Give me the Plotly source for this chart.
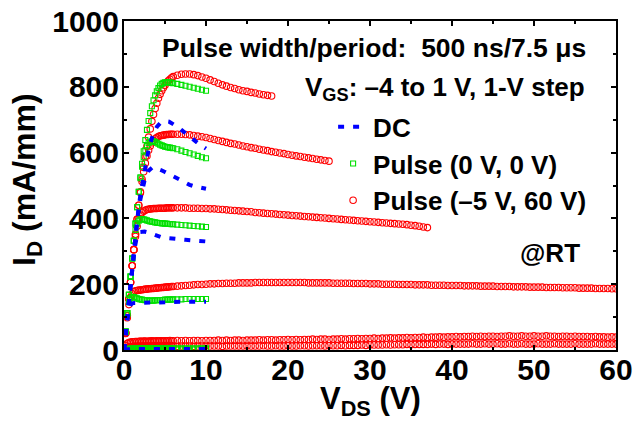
import plotly.graph_objects as go

# ---- sweep grids (V_DS, V) ----
G1 = [0.0, 0.2, 0.4, 0.6, 0.8, 1.0, 1.2, 1.4, 1.6, 1.8, 2.0, 2.2, 2.4, 2.6, 2.8,
      3.0, 3.2, 3.4, 3.6, 3.8, 4.0, 4.2, 4.4, 4.6, 4.8, 5.0, 5.2, 5.4, 5.6, 5.8]
G2 = [6.0, 6.5, 7.0, 7.5, 8.0, 8.5, 9.0, 9.5, 10.0, 10.5, 11.0, 11.5, 12.0, 12.5,
      13.0, 13.5, 14.0, 14.5, 15.0, 15.5, 16.0, 16.5, 17.0, 17.5, 18.0, 18.5, 19.0,
      19.5, 20.0, 20.5, 21.0, 21.5, 22.0, 22.5, 23.0, 23.5, 24.0, 24.5, 25.0, 25.5,
      26.0, 26.5, 27.0, 27.5, 28.0, 28.5, 29.0, 29.5, 30.0, 30.5, 31.0, 31.5, 32.0,
      32.5, 33.0, 33.5, 34.0, 34.5, 35.0, 35.5, 36.0, 36.5, 37.0, 37.5, 38.0, 38.5,
      39.0, 39.5, 40.0, 40.5, 41.0, 41.5, 42.0, 42.5, 43.0, 43.5, 44.0, 44.5, 45.0,
      45.5, 46.0, 46.5, 47.0, 47.5, 48.0, 48.5, 49.0, 49.5, 50.0, 50.5, 51.0, 51.5,
      52.0, 52.5, 53.0, 53.5, 54.0, 54.5, 55.0, 55.5, 56.0, 56.5, 57.0, 57.5, 58.0,
      58.5, 59.0, 59.5, 60.0]
VDS = G1 + G2
VDS_DC = [0, 0.25, 0.5, 0.75, 1.0, 1.25, 1.5, 1.75, 2.0, 2.5, 3.0, 3.5, 4.0, 4.5,
          5.0, 5.5, 6.0, 6.5, 7.0, 7.5, 8.0, 8.5, 9.0, 9.5, 10.0]

# ---- Pulse (-5 V, 60 V): I_D (mA/mm), V_GS = 1, 0, -1, -2, -3, -4 V ----
red_vgs_p1 = [0, 52, 104, 155, 206, 256, 305, 352, 397, 440, 481, 519, 555, 588, 619,
              647, 672, 695, 716, 734, 750, 765, 777, 788, 797, 805, 812, 818, 823, 827,
              831, 835, 838, 839, 839, 837, 834, 830, 826, 821, 816, 811, 806, 802, 798,
              795, 791, 788, 786, 783, 781, 778, 776, 774, 772]
red_vgs_0 = [0, 52, 104, 155, 206, 256, 305, 352, 397, 440, 478, 512, 542, 568, 590,
             607, 620, 630, 637, 642, 646, 649, 651, 652, 653, 654, 655, 655, 656, 656,
             656, 656, 656, 655, 654, 652, 650, 648, 646, 643, 640, 637, 634, 631, 628,
             626, 623, 620, 618, 615, 613, 610, 608, 606, 603, 601, 599, 597, 594, 592,
             590, 588, 586, 584, 582, 580, 578, 576, 574]
red_vgs_m1 = [0, 52, 104, 155, 206, 256, 305, 345, 376, 397, 410, 418, 422, 425, 427,
              428, 429, 429, 430, 430, 430, 431, 431, 431, 431, 431, 432, 432, 432, 432,
              432, 432, 432, 432, 431, 431, 431, 430, 430, 429, 429, 428, 427, 426, 425,
              424, 423, 422, 421, 420, 418, 417, 416, 415, 414, 413, 412, 411, 410, 409,
              408, 407, 406, 405, 404, 403, 402, 401, 400, 399, 398, 397, 396, 395, 394,
              393, 392, 391, 390, 389, 388, 387, 386, 385, 384, 383, 382, 381, 379, 378,
              376, 374, 372]
red_vgs_m2 = [0, 50, 98, 138, 160, 171, 177, 180, 181, 182, 182, 183, 184, 185, 185,
              186, 186, 187, 187, 188, 188, 189, 189, 190, 190, 191, 191, 192, 192, 193,
              193, 194, 195, 196, 197, 198, 199, 199, 200, 201,
              201, 202, 202, 203, 203, 203, 204, 204, 204, 204,
              205, 205, 205, 205, 205, 205, 205, 205, 205, 205,
              205, 205, 205, 204, 204, 204, 204, 204, 204, 203,
              203, 203, 203, 203, 202, 202, 202, 202, 201, 201,
              201, 200, 200, 200, 200, 199, 199, 199, 199, 198,
              198, 198, 198, 197, 197, 197, 197, 196, 196, 196,
              196, 195, 195, 195, 195, 194, 194, 194, 194, 193,
              193, 193, 193, 192, 192, 192, 192, 191, 191, 191,
              191, 190, 190, 190, 190, 189, 189, 189, 189, 188,
              188, 188, 188, 187, 187, 187, 187, 186, 186]
red_vgs_m3 = [0, 14, 20, 23, 24, 25, 25, 26, 26, 26, 27, 26, 27, 27, 26, 27, 27, 28,
              27, 27, 28, 27, 28, 28, 27, 28, 28, 28, 29, 28,
              28, 29, 28, 29, 28, 29, 29, 28, 29, 29,
              29, 30, 29, 30, 29, 30, 30, 29, 30, 30,
              30, 31, 30, 31, 31, 30, 31, 31, 32, 31,
              32, 31, 32, 32, 33, 32, 33, 33, 32, 33,
              33, 34, 33, 34, 34, 35, 34, 35, 35, 36,
              35, 36, 36, 37, 36, 37, 37, 38, 37, 38,
              38, 39, 38, 39, 39, 40, 39, 40, 40, 41,
              40, 41, 41, 42, 41, 42, 41, 42, 42, 41,
              42, 42, 43, 42, 42, 43, 42, 42, 43, 42,
              42, 43, 42, 42, 41, 42, 42, 41, 42, 41,
              41, 41, 40, 41, 40, 40, 39, 40, 39]
red_vgs_m4 = [0, 5, 8, 9, 10, 10, 11, 11, 11, 11, 12, 11, 12, 12, 11, 12, 12, 12, 11,
              12, 12, 12, 12, 11, 12, 12, 12, 12, 12, 12,
              12, 11, 12, 12, 12, 11, 12, 12, 12, 12,
              12, 12, 11, 12, 12, 12, 12, 12, 12, 12,
              12, 12, 13, 12, 12, 13, 12, 12, 13, 12,
              12, 13, 13, 12, 13, 13, 13, 12, 13, 13,
              13, 14, 13, 14, 14, 14, 15, 14, 15, 15,
              15, 15, 16, 15, 16, 16, 16, 17, 16, 17,
              17, 17, 17, 18, 17, 18, 18, 17, 18, 18,
              18, 18, 18, 19, 18, 18, 19, 18, 18, 19,
              18, 18, 19, 18, 18, 19, 18, 18, 18, 19,
              18, 18, 18, 19, 18, 18, 18, 18, 19, 18,
              18, 18, 18, 19, 18, 18, 18, 18, 18]

# ---- Pulse (0 V, 0 V) ----
grn_vgs_p1 = [0, 56, 112, 168, 223, 278, 332, 384, 434, 481, 525, 566, 604, 638, 669,
              696, 720, 741, 759, 774, 786, 796, 804, 809, 812, 814, 814, 814, 813, 812,
              811, 809, 806, 803, 800, 797, 794, 791, 788]
grn_vgs_0 = [0, 56, 112, 168, 223, 278, 332, 384, 434, 481, 522, 557, 586, 607, 621,
             629, 633, 634, 634, 632, 630, 627, 624, 622, 620, 618, 617, 616, 615, 614,
             613, 610, 606, 602, 598, 594, 590, 586, 583]
grn_vgs_m1 = [0, 56, 112, 168, 223, 278, 332, 365, 384, 393, 397, 398, 397, 396, 394,
              392, 391, 390, 389, 388, 387, 386, 386, 385, 385, 384, 384, 383, 383, 382,
              382, 381, 380, 379, 378, 377, 376, 375, 374]
grn_vgs_m2 = [0, 55, 108, 145, 158, 162, 161, 159, 157, 155, 154, 153, 152, 151, 151,
              150, 150, 150, 150, 151, 151, 151, 152, 152, 152, 153, 153, 153, 153, 154,
              154, 154, 154, 155, 155, 155, 155, 155, 155]
grn_vgs_m3 = [0, 3, 4, 4, 4, 5, 4, 5, 5, 5, 5, 5, 5, 5, 5, 5, 5, 5, 5, 5, 5, 5, 5, 5,
              5, 5, 5, 5, 5, 5, 5, 5, 5, 5, 5, 5, 5, 5, 5]
grn_vgs_m4 = [0, 1, 2, 2, 2, 2, 2, 2, 2, 2, 2, 2, 2, 2, 2, 2, 2, 2, 2, 2, 2, 2, 2, 2,
              2, 2, 2, 2, 2, 2, 2, 2, 2, 2, 2, 2, 2, 2, 2]

# ---- DC ----
dc_vgs_p1 = [0, 65, 130, 193, 255, 315, 372, 425, 472, 550, 610, 652, 678, 692, 696,
             694, 687, 679, 669, 658, 648, 638, 629, 620, 612]
dc_vgs_0 = [0, 65, 130, 193, 255, 315, 370, 418, 458, 515, 545, 556, 553, 547, 541,
            534, 527, 520, 513, 507, 502, 498, 495, 492, 490]
dc_vgs_m1 = [0, 65, 130, 193, 255, 303, 335, 352, 359, 360, 357, 352, 347, 343, 341,
             339, 338, 337, 336, 335, 334, 333, 332, 331, 330]
dc_vgs_m2 = [0, 60, 110, 135, 142, 143, 143, 143, 142, 142, 142, 142, 143, 144, 145,
             146, 146, 147, 147, 147, 147, 147, 147, 147, 147]
dc_vgs_m3 = [0, 2, 3, 3, 3, 3, 3, 3, 3, 3, 3, 3, 3, 3, 3, 3, 3, 3, 3, 3, 3, 3, 3, 3, 3]
dc_vgs_m4 = [0, 1, 1, 1, 1, 1, 1, 1, 1, 1, 1, 1, 1, 1, 1, 1, 1, 1, 1, 1, 1, 1, 1, 1, 1]

RED = [red_vgs_p1, red_vgs_0, red_vgs_m1, red_vgs_m2, red_vgs_m3, red_vgs_m4]
GRN = [grn_vgs_p1, grn_vgs_0, grn_vgs_m1, grn_vgs_m2, grn_vgs_m3, grn_vgs_m4]
DC = [dc_vgs_p1, dc_vgs_0, dc_vgs_m1, dc_vgs_m2, dc_vgs_m3, dc_vgs_m4]

LEGEND_NAMES = ["DC", "Pulse (0 V, 0 V)", "Pulse (\u20135 V, 60 V)"]
X_TITLE = "V<sub>DS</sub> (V)"
Y_TITLE = "I<sub>D</sub> (mA/mm)"


def concat(curves, grid, sep):
    xs, ys = [], []
    for c in curves:
        xs += grid[:len(c)]
        ys += list(c)
        if sep:
            xs.append(None)
            ys.append(None)
    return xs, ys


FONT = "Liberation Sans, Arial, Helvetica, sans-serif"
fig = go.Figure()

rx, ry = concat(RED, VDS, False)
fig.add_trace(go.Scatter(
    x=rx, y=ry, mode="markers", name="<b>" + LEGEND_NAMES[2] + "</b>", legendrank=3,
    marker=dict(symbol="circle-open", size=6.5, color="#ff0000", line=dict(width=1.1))))

gx, gy = concat(GRN, VDS, False)
fig.add_trace(go.Scatter(
    x=gx, y=gy, mode="markers", name="<b>" + LEGEND_NAMES[1] + "</b>", legendrank=2,
    marker=dict(symbol="square-open", size=5, color="#00e000", line=dict(width=1.1))))

dx, dy = concat(DC, VDS_DC, True)
fig.add_trace(go.Scatter(
    x=dx, y=dy, mode="lines", name="<b>" + LEGEND_NAMES[0] + "</b>", legendrank=1,
    line=dict(color="#0000ff", width=4, dash="6px,9px")))

axis_common = dict(
    showline=True, linewidth=2, linecolor="black", mirror="ticks",
    ticks="inside", ticklen=5, tickwidth=1.5, tickcolor="black",
    showgrid=False, zeroline=False,
    tickfont=dict(family=FONT, size=30, color="black", weight="bold"),
)

fig.update_xaxes(
    range=[0, 60], dtick=10, tick0=0, ticklabelstandoff=-8,
    minor=dict(dtick=5, ticks="inside", ticklen=3, tickwidth=1.5, tickcolor="black", showgrid=False),
    **axis_common)
fig.update_yaxes(
    range=[0, 1000], dtick=200, tick0=0, ticklabelstandoff=-3,
    minor=dict(dtick=100, ticks="inside", ticklen=3, tickwidth=1.5, tickcolor="black", showgrid=False),
    **axis_common)

fig.update_layout(
    width=635, height=428,
    margin=dict(l=124, r=19, t=21, b=78, autoexpand=False),
    paper_bgcolor="white", plot_bgcolor="white",
    font=dict(family=FONT, color="black"),
    showlegend=True,
    legend=dict(x=0.425, y=0.75, xanchor="left", yanchor="top",
                bgcolor="rgba(0,0,0,0)", borderwidth=0,
                font=dict(family=FONT, size=26, color="black")),
    annotations=[
        dict(text="<b>Pulse width/period:\u00a0 500 ns/7.5 \u03bcs</b>", xref="paper", yref="paper",
             x=0.943, y=0.918, xanchor="right", yanchor="middle", showarrow=False,
             font=dict(family=FONT, size=26.5, color="black")),
        dict(text="<b>V<sub>GS</sub>: \u20134 to 1 V, 1-V step</b>", xref="paper", yref="paper",
             x=0.941, y=0.795, xanchor="right", yanchor="middle", showarrow=False,
             font=dict(family=FONT, size=26, color="black")),
        dict(text="<b>@RT</b>", xref="paper", yref="paper",
             x=0.931, y=0.295, xanchor="right", yanchor="middle", showarrow=False,
             font=dict(family=FONT, size=26, color="black")),
        dict(text="<b>" + X_TITLE + "</b>", xref="paper", yref="paper",
             x=0.502, y=-0.156, xanchor="center", yanchor="middle", showarrow=False,
             font=dict(family=FONT, size=31, color="black")),
        dict(text="<b>" + Y_TITLE + "</b>", xref="paper", yref="paper", textangle=-90,
             x=-0.197, y=0.517, xanchor="center", yanchor="middle", showarrow=False,
             font=dict(family=FONT, size=32, color="black")),
    ],
)

fig.write_html("out.html")
